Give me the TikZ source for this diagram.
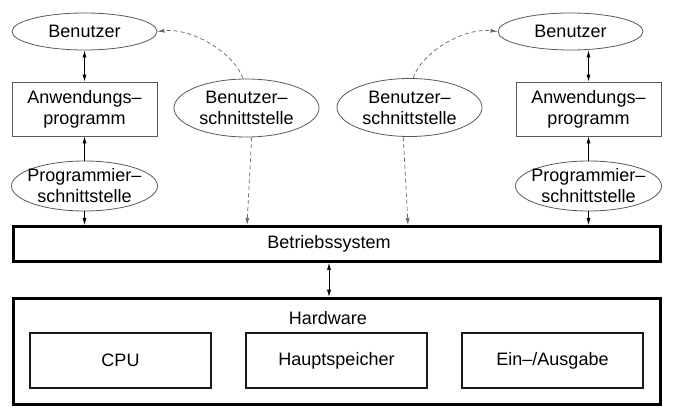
\documentclass[tikz,border=0pt]{standalone}
\usepackage{fontspec}
\setmainfont{Liberation Sans}
\usetikzlibrary{shapes.geometric,arrows.meta}
\begin{document}
\begin{tikzpicture}[x=1pt,y=-1pt,
  every node/.style={font=\fontsize{18}{21}\selectfont, align=center, inner sep=0pt},
  ell/.style={ellipse, draw=black!65, line width=0.8pt},
  progell/.style={ell, inner xsep=-6pt, inner ysep=-3pt, minimum width=146pt, minimum height=50pt},
  thinbox/.style={rectangle, draw=black!65, line width=0.9pt},
  hwbox/.style={rectangle, draw=black!90, line width=1.2pt, minimum width=181pt, minimum height=55pt},
  thickbox/.style={rectangle, draw, line width=3pt},
  arr/.style={-{Latex[length=7pt,width=4pt]}, line width=0.6pt},
  darr/.style={{Latex[length=7pt,width=4pt]}-{Latex[length=7pt,width=4pt]}, line width=0.6pt},
  dasharr/.style={-{Latex[length=7pt,width=4pt]}, dash pattern=on 4pt off 3pt, draw=black!60, line width=0.7pt}
]
\useasboundingbox (0,0) rectangle (673,414);

% left column
\node[ell, minimum width=145pt, minimum height=37pt] (b1) at (84.5,31.5) {Benutzer};
\node[thinbox, minimum width=145pt, minimum height=54pt] (a1) at (84.5,109) {Anwendungs--\\programm};
\node[progell] (p1) at (84.5,186) {Programmier--\\schnittstelle};

% user interfaces
\node[ell, minimum width=145pt, minimum height=58pt] (s1) at (246.5,108) {Benutzer--\\schnittstelle};
\node[ell, minimum width=145pt, minimum height=58pt] (s2) at (409.5,107.5) {Benutzer--\\schnittstelle};

% right column
\node[ell, minimum width=145pt, minimum height=37pt] (b2) at (570.5,31.5) {Benutzer};
\node[thinbox, minimum width=145pt, minimum height=54pt] (a2) at (588.5,109) {Anwendungs--\\programm};
\node[progell] (p2) at (588.5,186) {Programmier--\\schnittstelle};

% operating system
\node[thickbox, minimum width=647pt, minimum height=35pt] (os) at (337,244) {};
\node (oslabel) at (329,244) {Betriebssystem};

% hardware
\node[thickbox, minimum width=647pt, minimum height=106pt] (hw) at (337,351.25) {};
\node (hwlabel) at (328,318) {Hardware};
\node[hwbox] (cpu) at (120.5,360.5) {CPU};
\node[hwbox] (ram) at (336.5,360.5) {Hauptspeicher};
\node[hwbox] (io) at (552.5,360.5) {Ein--/Ausgabe};

% helper coordinates
\coordinate (d1) at (247,0);
\coordinate (d2) at (408,0);

% solid connectors
\draw[darr] (b1) -- (a1);
\draw[arr] (p1) -- (a1);
\draw[arr] (p1) -- (p1 |- os.north);
\draw[darr] (a2.north |- b2.south) -- (a2.north);
\draw[arr] (p2) -- (a2);
\draw[arr] (p2) -- (p2 |- os.north);
\draw[darr] (oslabel |- os.south) -- (oslabel |- hw.north);

% dashed connectors
\draw[dasharr] (s1.280) -- (d1 |- os.north);
\draw[dasharr] (s2.258) -- (d2 |- os.north);
\draw[dasharr] (s1.97) .. controls +(-8,-25) and +(35,-4) .. (b1.east);
\draw[dasharr] (s2.83) .. controls +(8,-25) and +(-35,-4) .. (b2.west);
\end{tikzpicture}
\end{document}
